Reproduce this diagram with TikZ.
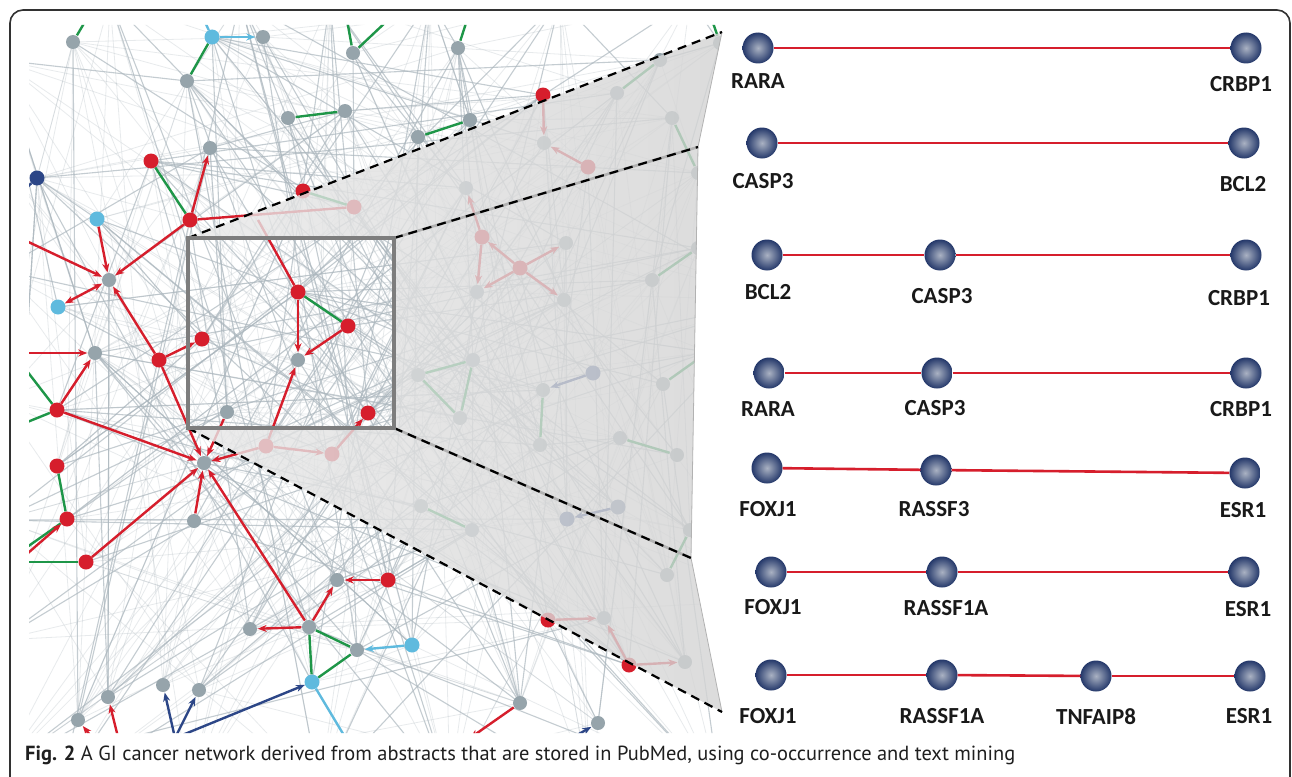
\documentclass[tikz,border=0pt]{standalone}
\usepackage{fontspec}
\usepackage{graphicx}
\setmainfont{PT Sans}
\newfontfamily\lblfont{Carlito}
\usetikzlibrary{arrows.meta}
\definecolor{gnc}{RGB}{150,164,171}
\definecolor{rc}{RGB}{214,30,44}
\definecolor{grc}{RGB}{30,150,72}
\definecolor{cyc}{RGB}{95,186,222}
\definecolor{dbc}{RGB}{44,70,135}
\definecolor{meshc}{RGB}{172,183,190}
\definecolor{ballc}{RGB}{36,56,106}
\definecolor{ballhi}{RGB}{170,178,195}
\definecolor{framec}{RGB}{50,50,50}
\definecolor{boxc}{RGB}{125,125,125}
\definecolor{lblc}{RGB}{25,25,25}
\begin{document}
\begin{tikzpicture}[x=1pt,y=-1pt,
  nd/.style={circle,minimum size=15pt,inner sep=0pt},
  gre/.style={draw=grc,line width=2.4pt},
  cye/.style={draw=cyc,line width=2.4pt},
  rede/.style={draw=rc,line width=2.4pt},
  dbe/.style={draw=dbc,line width=2.4pt},
  ah/.style={-{Stealth[length=9pt,width=7pt]}},
  meshln/.style={draw=meshc,line width=1.1pt,opacity=0.7},
  faintln/.style={draw=meshc,line width=0.8pt,opacity=0.28},
  gball/.style={circle,minimum size=31pt,inner sep=0pt,inner color=ballhi,outer color=ballc},
  lbl/.style={font=\lblfont\bfseries\fontsize{23}{23}\selectfont,text=lblc,inner sep=0pt},
  bline/.style={draw=rc,line width=2.6pt},
  dashln/.style={draw=black,line width=2.2pt,dash pattern=on 9pt off 6pt}
]
\useasboundingbox (0,0) rectangle (1292,776);
\fill[white] (0,0) rectangle (1292,776);

% ---------- network nodes (placeholders) ----------
\foreach \n/\x/\y [count=\k] in {
 g1/73/42, g2/263/37, g3/187/81, g4/353/53, g5/288/118, g6/345/111, g7/210/148, g8/418/137, g9/470/120, g10/458/48,
 g11/544/143, g12/617/93, g13/660/60, g14/672/118, g15/698/173, g16/466/188, g17/566/243, g18/477/292, g19/564/300, g20/652/280,
 g21/698/248, g22/708/352, g23/720/43, g24/109/280, g25/95/353, g26/298/360, g27/227/412, g28/204/463, g29/194/521, g30/418/375,
 g31/473/360, g32/460/418, g33/543/390, g34/540/445, g35/663/384, g36/620/438, g37/677/455, g38/421/506, g39/472/530, g40/690/530,
 g41/667/575, g42/604/618, g43/685/662, g44/337/580, g45/250/629, g46/309/627, g47/357/650, g48/163/685, g49/199/690, g50/108/697,
 g51/78/720, g52/520/703, g53/598/723,
 r1/151/161, r2/190/220, r3/303/191, r4/354/207, r5/159/360, r6/202/339, r7/57/410, r8/57/466, r9/67/519, r10/86/562,
 r11/298/292, r12/348/326, r13/368/413, r14/266/446, r15/332/454, r16/388/580, r17/543/95, r18/588/167, r19/482/237, r20/520/268,
 r21/548/620, r22/629/665,
 c1/212/37, c2/97/219, c3/58/307, c4/412/645, c5/312/682,
 b1/37/178, b2/593/373, b3/618/507, b4/567/519,
 o1/0/60, o2/0/160, o3/0/270, o4/0/400, o5/0/520, o6/0/640, o7/0/770, o8/110/0, o9/240/0, o10/330/0,
 o11/430/0, o12/560/0, o13/690/0, o14/60/790, o15/190/790, o16/320/790, o17/450/790, o18/590/790, o19/720/790, o20/780/300,
 o21/780/600}
 {\node[nd] (\n) at (\x,\y) {}; \coordinate (m\k) at (\x,\y); \xdef\NM{\k}}

\foreach \n/\x/\y in {e1/86/20, e2/204/20, e3/347/20, e4/388/20, e5/467/20, e6/20/238, e7/20/353, e8/20/362,
 e9/20/425, e10/20/552, e11/20/562, e12/348/742, e13/120/745, e14/98/745, e15/175/738, e16/470/738,
 e17/565/742, e18/22/192, e19/712/20, e20/258/220, e21/20/560}
 {\coordinate (\n) at (\x,\y);}

% cone and box corners
\coordinate (bxTL) at (188,238);
\coordinate (bxTR) at (394,238);
\coordinate (bxBR) at (394,428);
\coordinate (bxBL) at (188,428);
\coordinate (kTR) at (722,32);
\coordinate (kI1) at (698,147);
\coordinate (kI2) at (691,558);
\coordinate (kBR) at (722,712);

\begin{scope}
\clip (29,25) -- (722,25) -- (kTR) -- (kI1) -- (kI2) -- (kBR) -- (722,733) -- (29,733) -- cycle;
% background mesh
\pgfmathsetseed{731}
\foreach \i in {1,...,360}{
  \pgfmathrandominteger{\a}{1}{\NM}
  \pgfmathrandominteger{\b}{1}{\NM}
  \draw[faintln] (m\a) -- (m\b);
}
\pgfmathsetseed{2024}
\foreach \i in {1,...,210}{
  \pgfmathrandominteger{\a}{1}{\NM}
  \pgfmathrandominteger{\b}{1}{\NM}
  \draw[meshln] (m\a) -- (m\b);
}
\draw[meshln] (g17) -- (g19);

% green edges
\foreach \p/\q in {g1/e1, c1/g3, g4/e3, g4/e4, g5/g6, g8/g9, g10/e5, r1/r2, r3/r4, g12/g13, g14/g15, g20/g21,
 r11/r12, g30/g31, g30/g32, g31/g32, g33/g34, g35/g22, g36/g37, g38/g39, g40/g41, r7/e8, r7/e9, r8/r9, r9/e10,
 e11/r10, g46/g47, g46/c5, c5/g47, e19/g23}
 {\draw[gre] (\p) -- (\q);}

% cyan edges
\draw[cye,ah] (c1) -- (g2);
\draw[cye] (c1) -- (e2);
\draw[cye,ah] (c4) -- (g47);
\draw[cye] (c5) -- (e12);

% red edges
\foreach \p/\q in {r2/g7, r2/g24, c2/g24, e6/g24, r5/g24, r5/r6, e7/g25, r7/g25, r7/g28, r5/g28, r10/g28,
 g29/g28, g46/g28, r14/g28, g27/g28, r11/g26, r12/g26, r14/g26, r14/r15, r15/r13, g46/g44, r16/g44, g46/g45,
 e21/r9, e13/g50, e14/g51, g52/e16, r17/g11, r18/g11, r19/g16, r19/g18, r20/r19, r20/g17, r20/g18, r20/g19,
 r21/g42, r22/g43, r22/g42}
 {\draw[rede,ah] (\p) -- (\q);}
\draw[rede] (r2) -- (r4);
\draw[rede] (r11) -- (e20);
\draw[rede,{Stealth[length=9pt,width=7pt]}-{Stealth[length=9pt,width=7pt]}] (g24) -- (c3);

% blue edges
\draw[dbe,ah] (b2) -- (g33);
\draw[dbe,ah] (b3) -- (b4);
\draw[dbe,ah] (e15) -- (g48);
\draw[dbe,ah] (e15) -- (g49);
\draw[dbe,ah] (e15) -- (c5);
\draw[dbe,ah] (e17) -- (g53);
\draw[dbe] (b1) -- (e18);

% node discs
\foreach \i in {1,...,53} {\fill[gnc] (g\i) circle (7);}
\foreach \i in {1,...,22} {\fill[rc] (r\i) circle (7.5);}
\foreach \i in {1,...,5} {\fill[cyc] (c\i) circle (7.5);}
\fill[dbc] (b1) circle (7.5);
\fill[dbc!80!gnc] (b2) circle (7.5);
\fill[dbc!45!gnc] (b3) circle (7.5);
\fill[dbc!75!gnc] (b4) circle (7.5);
\end{scope}

% magnifier cone
\shade[left color=black!9, right color=black!17, fill opacity=0.8]
  (bxTL) -- (kTR) -- (kI1) -- (kI2) -- (kBR) -- (bxBL) -- (bxBR) -- (bxTR) -- cycle;
\draw[black!30,line width=0.8pt] (kTR) -- (kI1) -- (kI2) -- (kBR);
\draw[black!30,line width=2.6pt] (bxTR) -- (kI1);
\draw[black!30,line width=2.6pt] (bxBR) -- (kI2);
\draw[dashln] (bxTL) -- (kTR);
\draw[dashln] (bxTR) -- (kI1);
\draw[dashln] (bxBR) -- (kI2);
\draw[dashln] (bxBL) -- (kBR);
\draw[boxc,line width=3.5pt] (bxTL) rectangle (bxBR);

% ---------- right-hand chains ----------
\node[gball] (a1) at (758,48) {};  \node[gball] (a2) at (1246,48) {};
\draw[bline] (a1) -- (a2);
\node[lbl] (a1t) at (758,81) {RARA};  \node[lbl] (a2t) at (1241,84) {CRBP1};

\node[gball] (b1r) at (762,143) {};  \node[gball] (b2r) at (1244,143) {};
\draw[bline] (b1r) -- (b2r);
\node[lbl] (b1t) at (763,181) {CASP3};  \node[lbl] (b2t) at (1243,184) {BCL2};

\node[gball] (c1r) at (767,255) {}; \node[gball] (c2r) at (940,255) {}; \node[gball] (c3r) at (1246,255) {};
\draw[bline] (c1r) -- (c2r); \draw[bline] (c2r) -- (c3r);
\node[lbl] (c1t) at (768,292) {BCL2}; \node[lbl] (c2t) at (942,296) {CASP3}; \node[lbl] (c3t) at (1239,298) {CRBP1};

\node[gball] (d1r) at (769,373) {}; \node[gball] (d2r) at (937,373) {}; \node[gball] (d3r) at (1246,373) {};
\draw[bline] (d1r) -- (d2r); \draw[bline] (d2r) -- (d3r);
\node[lbl] (d1t) at (768,409) {RARA}; \node[lbl] (d2t) at (935,408) {CASP3}; \node[lbl] (d3t) at (1241,409) {CRBP1};

\node[gball] (f1r) at (767,468) {}; \node[gball] (f2r) at (936,470) {}; \node[gball] (f3r) at (1245,473) {};
\draw[bline] (f1r) -- (f2r); \draw[bline] (f2r) -- (f3r);
\node[lbl] (f1t) at (768,509) {FOXJ1}; \node[lbl] (f2t) at (934,509) {RASSF3}; \node[lbl] (f3t) at (1243,510) {ESR1};

\node[gball] (h1r) at (771,572) {}; \node[gball] (h2r) at (942,572) {}; \node[gball] (h3r) at (1244,572) {};
\draw[bline] (h1r) -- (h2r); \draw[bline] (h2r) -- (h3r);
\node[lbl] (h1t) at (773,607) {FOXJ1}; \node[lbl] (h2t) at (946,608) {RASSF1A}; \node[lbl] (h3t) at (1248,609) {ESR1};

\node[gball] (k1r) at (771,675) {}; \node[gball] (k2r) at (942,675) {}; \node[gball] (k3r) at (1096,676) {}; \node[gball] (k4r) at (1250,676) {};
\draw[bline] (k1r) -- (k2r); \draw[bline] (k2r) -- (k3r); \draw[bline] (k3r) -- (k4r);
\node[lbl] (k1t) at (768,716) {FOXJ1}; \node[lbl] (k2t) at (942,716) {RASSF1A}; \node[lbl] (k3t) at (1096,717) {TNFAIP8}; \node[lbl] (k4t) at (1249,716) {ESR1};

% ---------- frame and caption ----------
\draw[framec,line width=1.6pt,rounded corners=13pt] (10,10) rectangle (1290,790);
\node[anchor=base west,inner sep=0pt,text=black!88] (cap) at (25,760)
  {\resizebox{990pt}{!}{\fontsize{17}{17}\selectfont\textbf{Fig. 2} A GI cancer network derived from abstracts that are stored in PubMed, using co-occurrence and text mining}};
\end{tikzpicture}
\end{document}
